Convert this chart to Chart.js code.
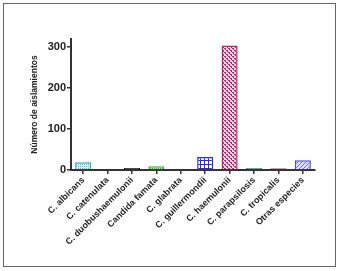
<!DOCTYPE html>
<html>
<head>
<meta charset="utf-8">
<script src="https://cdn.jsdelivr.net/npm/chart.js@4"></script>
<style>
  html, body { margin: 0; padding: 0; background: #fff; }
  #wrap { position: relative; width: 341px; height: 271px; }
  #frame { position: absolute; left: 3px; top: 3px; width: 331px; height: 262px; border: 1px solid #666; box-sizing: content-box; pointer-events: none; }
  canvas { position: absolute; left: 0; top: 0; }
</style>
</head>
<body>
<div id="wrap">
  <canvas id="chart" width="341" height="271"></canvas>
  <div id="frame"></div>
</div>
<script>
// Aislamientos por especie
const species = ['C. albicans', 'C. catenulata', 'C. duobushaemulonii', 'Candida famata', 'C. glabrata',
                 'C. guillermondii', 'C. haemulonii', 'C. parapsilosis', 'C. tropicalis', 'Otras especies'];
const isolates = [19, 2, 5, 9, 2, 32, 304, 5, 4, 24];
const yTicks = [0, 100, 200, 300];
const yMax = 320;

// colours per bar: border / pattern background / pattern ink
const borderColors = ['#35a8b8', '#a83232', '#111111', '#3cb43c', '#222222', '#2b2be0', '#b4286a', '#2a9a6a', '#a83a3a', '#4a4af0'];
const fillBack = ['#d8f0f3', '#a83232', '#111111', '#bfe8bf', '#222222', '#ffffff', '#f6d3e2', '#2a9a6a', '#a83a3a', '#e0e0ff'];
const fillInk = ['#5cc0cc', '#a83232', '#111111', '#3cb43c', '#222222', '#2b2be0', '#b4286a', '#2a9a6a', '#a83a3a', '#6a6af0'];
const patternKind = ['dots', 'solid', 'solid', 'dots', 'solid', 'grid', 'cross', 'solid', 'solid', 'diag'];

function makePattern(ctx, kind, back, ink) {
    if (kind === 'solid') return back;
    const c = document.createElement('canvas');
    c.width = 4; c.height = 4;
    const p = c.getContext('2d');
    p.fillStyle = back;
    p.fillRect(0, 0, 4, 4);
    p.fillStyle = ink;
    if (kind === 'dots') {
        p.fillRect(0, 0, 1, 1); p.fillRect(2, 2, 1, 1);
        p.fillRect(2, 0, 1, 1); p.fillRect(0, 2, 1, 1);
    } else if (kind === 'grid') {
        p.fillRect(0, 0, 4, 1); p.fillRect(0, 0, 1, 4);
    } else if (kind === 'cross') {
        p.fillRect(0, 0, 2, 1); p.fillRect(2, 2, 2, 1);
        p.fillRect(1, 1, 1, 1); p.fillRect(3, 3, 1, 1);
    } else if (kind === 'diag') {
        p.fillRect(0, 3, 1, 1); p.fillRect(1, 2, 1, 1);
        p.fillRect(2, 1, 1, 1); p.fillRect(3, 0, 1, 1);
    }
    return ctx.createPattern(c, 'repeat');
}

const ctx = document.getElementById('chart').getContext('2d');
const fills = patternKind.map((k, i) => makePattern(ctx, k, fillBack[i], fillInk[i]));

const axisColor = '#333333';

new Chart(ctx, {
    type: 'bar',
    data: {
        labels: species,
        datasets: [{
            data: isolates,
            backgroundColor: fills,
            borderColor: borderColors,
            borderWidth: 1.5,
            borderSkipped: 'bottom',
            barPercentage: 0.66,
            categoryPercentage: 1
        }]
    },
    options: {
        responsive: false,
        animation: false,
        layout: { padding: { left: 0, right: 26, top: 39, bottom: 0 } },
        plugins: { legend: { display: false }, tooltip: { enabled: false } },
        scales: {
            x: {
                grid: { display: true, drawOnChartArea: false, offset: false, tickLength: 4, tickColor: axisColor, lineWidth: 1.5 },
                border: { color: axisColor, width: 2 },
                ticks: {
                    color: '#222',
                    font: { family: 'Liberation Sans', size: 9, weight: 'bold' },
                    minRotation: 45, maxRotation: 45, padding: 1, autoSkip: false
                },
                afterFit: s => { s.height = 101; }
            },
            y: {
                min: 0, max: yMax,
                grid: { display: true, drawOnChartArea: false, tickLength: 4, tickColor: axisColor, lineWidth: 1.5 },
                border: { color: axisColor, width: 2 },
                afterBuildTicks: s => { s.ticks = yTicks.map(v => ({ value: v })); },
                ticks: {
                    color: '#222',
                    font: { family: 'Liberation Sans', size: 11, weight: 'bold' },
                    padding: 1
                },
                title: {
                    display: true,
                    text: 'Número de aislamientos',
                    color: '#222',
                    font: { family: 'Liberation Sans', size: 8.5, weight: 'bold' },
                    padding: { top: 30, bottom: 0 }
                },
                afterFit: s => { s.width = 71; }
            }
        }
    }
});
</script>
</body>
</html>
